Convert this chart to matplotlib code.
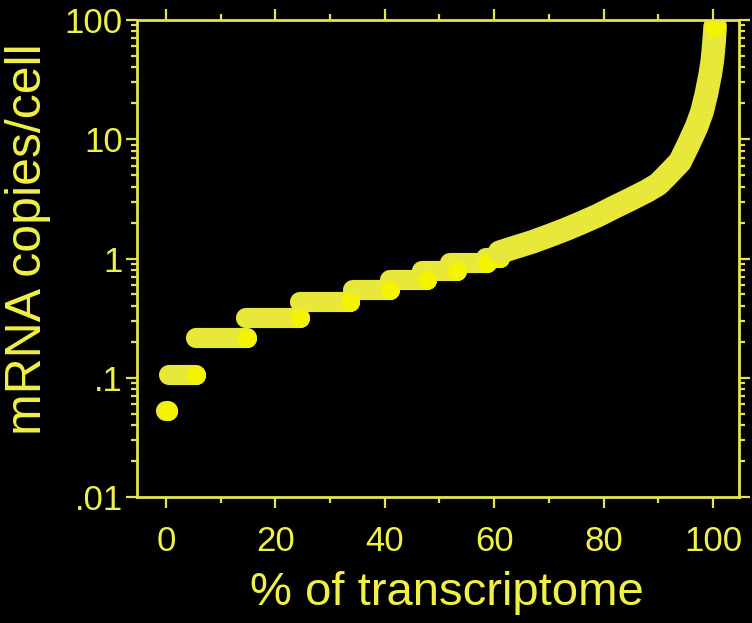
import matplotlib
matplotlib.use("Agg")
import matplotlib.pyplot as plt
from matplotlib.ticker import MultipleLocator, LogLocator, NullFormatter

# stepwise part (low copy numbers): start x, end x, level
plateau_lo = [0.0, 0.6, 5.5, 14.7, 24.5, 34.2, 41.0, 46.8, 52.0, 58.5]
plateau_hi = [0.3, 5.6, 14.9, 24.5, 33.6, 40.9, 47.7, 53.2, 58.7, 61.0]
plateau_val = [0.053, 0.105, 0.214, 0.32, 0.43, 0.55, 0.66, 0.78, 0.91, 1.02]

# smooth upper part of the curve
curve_x = [61, 64, 67, 70, 73, 76, 79, 82, 85, 88, 90, 92, 94, 95.5, 97, 98, 98.8, 99.5, 99.9, 100.2, 100.4]
curve_y = [1.13, 1.25, 1.38, 1.55, 1.75, 2.0, 2.3, 2.7, 3.15, 3.7, 4.2, 5.2, 6.5, 9, 12.7, 17, 24, 35, 46, 65, 88]

ytick_vals = [0.01, 0.1, 1, 10, 100]
ytick_labels = ['.01', '.1', '1', '10', '100']
xtick_vals = [0, 20, 40, 60, 80, 100]

band = '#e8e83a'
bright = '#f4f400'
txt = '#f0f046'
axcol = '#e4e452'

plt.rcParams['font.family'] = ['Liberation Sans', 'DejaVu Sans']

fig = plt.figure(figsize=(7.52, 6.23), dpi=100, facecolor='black')
ax = fig.add_axes([0.182, 0.202, 0.801, 0.766])
ax.set_facecolor('black')

lw = 14.5
for x0, x1, v in zip(plateau_lo, plateau_hi, plateau_val):
    ax.plot([x0, x1], [v, v], color=band, lw=lw, solid_capstyle='round')
for x1, v in zip(plateau_hi, plateau_val):
    ax.plot([x1], [v], 'o', color=bright, ms=lw * 0.95, mec='none')

ax.plot(curve_x, curve_y, color=band, lw=17, solid_capstyle='round', solid_joinstyle='round')
ax.plot([curve_x[-1]], [curve_y[-1]], 'o', color=bright, ms=lw * 0.95, mec='none')

ax.set_yscale('log')
ax.set_ylim(0.01, 100)
ax.set_xlim(-5.3, 104.8)

ax.set_yticks(ytick_vals, labels=ytick_labels)
ax.yaxis.set_minor_locator(LogLocator(base=10, subs=range(2, 10)))
ax.yaxis.set_minor_formatter(NullFormatter())
ax.set_xticks(xtick_vals)
ax.xaxis.set_minor_locator(MultipleLocator(10))

for s in ax.spines.values():
    s.set_color(axcol)
    s.set_linewidth(2)

ax.tick_params(which='both', direction='out', top=True, right=True, colors=axcol,
               labelcolor=txt, labelsize=25, width=1.6)
ax.tick_params(which='major', length=8)
ax.tick_params(which='minor', length=4)
ax.tick_params(axis='x', which='major', pad=12)
ax.tick_params(axis='y', which='major', pad=2)

ax.set_xlabel('% of transcriptome', color=txt, fontsize=34)
ax.set_ylabel('mRNA copies/cell', color=txt, fontsize=36)
ax.xaxis.set_label_coords(0.515, -0.155)
ax.yaxis.set_label_coords(-0.142, 0.541)

fig.savefig('out.png', dpi=100, facecolor='black')
